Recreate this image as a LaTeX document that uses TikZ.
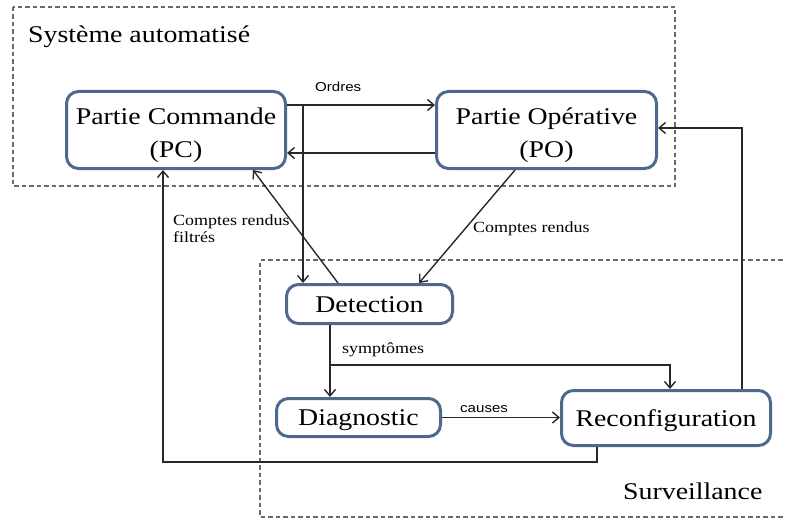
\documentclass[tikz,border=0pt]{standalone}
\usepackage{fontspec}
\setmainfont{Liberation Serif}[FakeStretch=1.16]
\newfontfamily\lblsans{Liberation Sans}[FakeStretch=1.16]
\usetikzlibrary{arrows.meta}
\definecolor{boxblue}{RGB}{79,104,142}
\definecolor{dashgray}{RGB}{105,105,105}
\definecolor{linegray}{RGB}{40,40,40}
\begin{document}
\begin{tikzpicture}[x=1pt,y=-1pt,
  box/.style={draw=boxblue, line width=3pt, rounded corners=12pt, fill=white, inner sep=0pt, font=\fontsize{24}{33}\selectfont, align=center},
  onebox/.style={box, text height=20pt, text depth=3.5pt},
  conn/.style={draw=linegray, line width=1.4pt, -{Straight Barb[length=6.5pt,width=11pt]}},
  zone/.style={draw=dashgray, line width=1.1pt, dash pattern=on 4.5pt off 3pt},
  big/.style={font=\fontsize{24}{28}\selectfont, inner sep=0pt},
  small/.style={font=\fontsize{15.5}{17}\selectfont, inner sep=0pt},
  smallsans/.style={font=\lblsans\fontsize{13}{15}\selectfont, inner sep=0pt}]
\useasboundingbox (0,0) rectangle (785,519);
% zones
\draw[zone] (13,7) rectangle (675,186);
\draw[zone] (790,260) -- (260,260) -- (260,517) -- (790,517);
\node[big, anchor=base west] (tsys) at (28,43) {Système automatisé};
\node[big, anchor=base west] (tsurv) at (623,499) {Surveillance};
% boxes
\node[box, minimum width=219pt, minimum height=77pt] (PC) at (176,130) {\rule{0pt}{27pt}Partie Commande\\(PC)};
\node[box, minimum width=220pt, minimum height=77pt] (PO) at (546.5,130) {\rule{0pt}{27pt}Partie Opérative\\(PO)};
\node[onebox, minimum width=166pt, minimum height=39pt] (Det) at (369.5,304) {Detection};
\node[onebox, minimum width=164pt, minimum height=38pt] (Diag) at (358.5,417.5) {Diagnostic};
\node[onebox, minimum width=209pt, minimum height=55pt] (Rec) at (666,418) {Reconfiguration};
% junctions
\coordinate (j1) at (303,105);
\coordinate (j2) at (330,365);
\coordinate (j3) at (670,365);
% connectors
\draw[conn] (PC.east |- j1) -- (PO.west |- j1);
\draw[conn] (j1) -- (j1 |- Det.north);
\draw[conn] (PO.west |- 0,153) -- (PC.east |- 0,153);
\draw[conn] (Det.north -| 338,0) -- (PC.south -| 253,0);
\draw[conn] (PO.south -| 515,0) -- (Det.north -| 419,0);
\draw[conn] (Det.south -| j2) -- (Diag.north -| j2);
\draw[conn] (j2) -- (j3) -- (Rec.north -| j3);
\draw[conn] (Diag.east) -- (Diag.east -| Rec.west);
\draw[conn] (Rec.north -| 742,0) |- (PO.east |- 0,128);
\draw[conn] (Rec.south -| 597,0) |- (163,462) -- (PC.south -| 163,0);
% labels
\node[smallsans, anchor=base west] (lord) at (315,92) {Ordres};
\node[smallsans, anchor=base west] (lcau) at (460,412) {causes};
\node[small, anchor=base west] (lsym) at (342,353) {symptômes};
\node[small, anchor=base west] (lcr) at (473,232) {Comptes rendus};
\node[small, anchor=base west] (lcrf1) at (173,225) {Comptes rendus};
\node[small, anchor=base west] (lcrf2) at (173,242) {filtrés};
\end{tikzpicture}
\end{document}
